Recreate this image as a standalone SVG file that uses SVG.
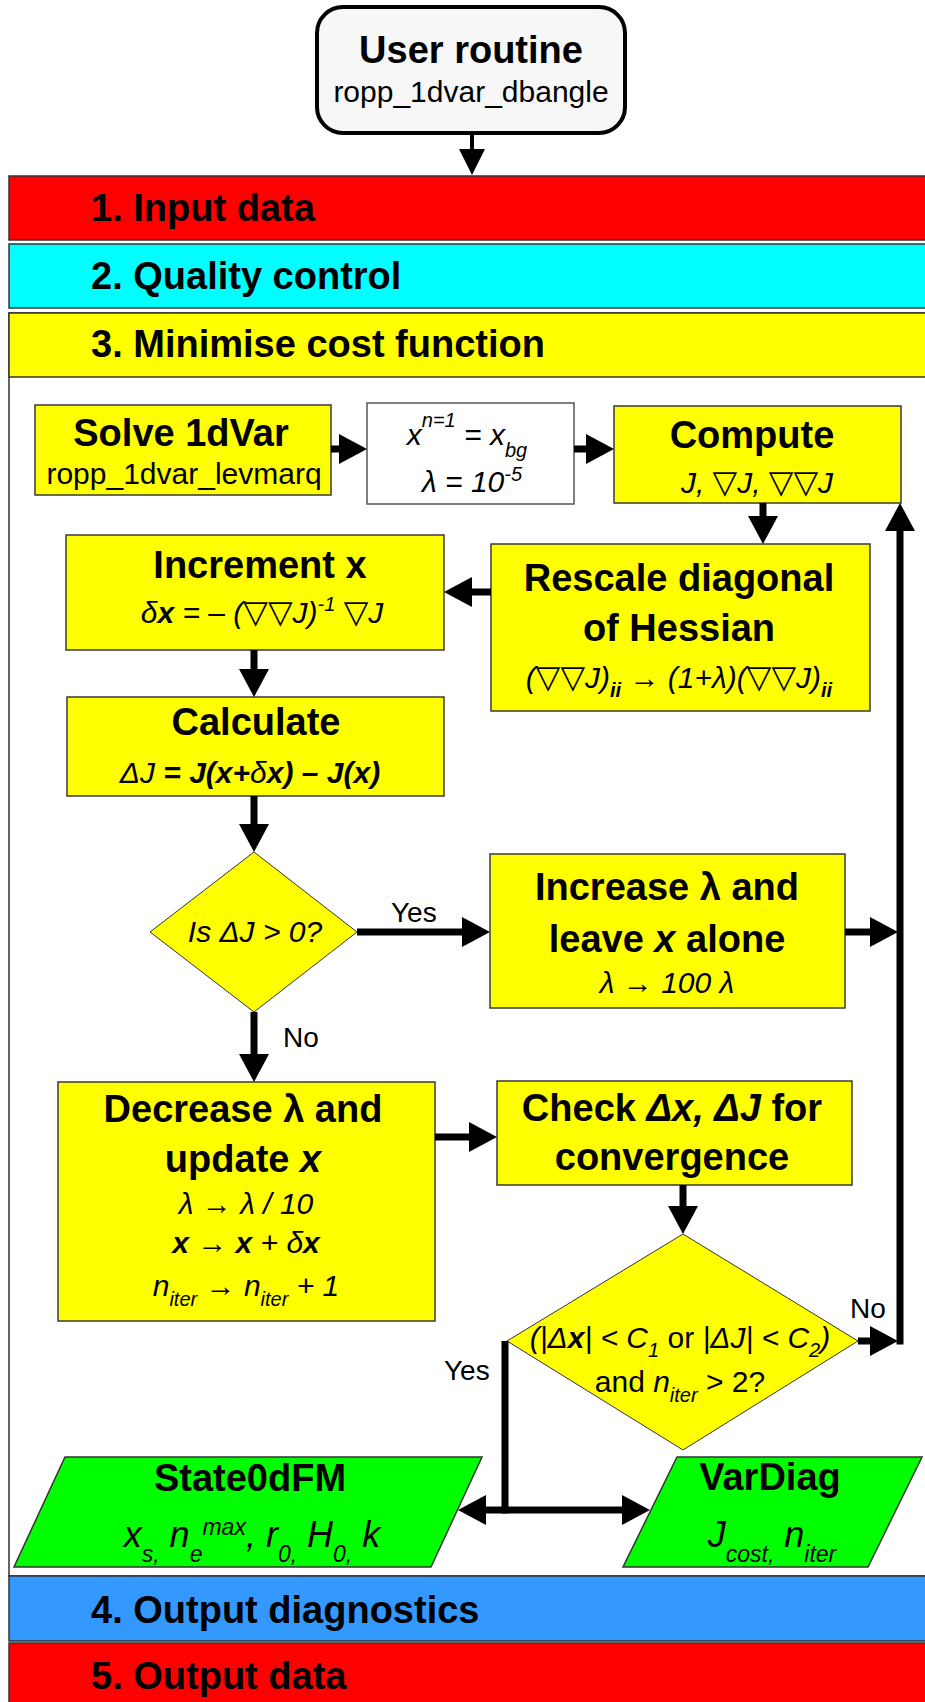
<svg xmlns="http://www.w3.org/2000/svg" width="925" height="1702" viewBox="0 0 925 1702">
<style>
text{font-family:"Liberation Sans","DejaVu Sans",sans-serif;fill:#000}
.title{font-size:38px;font-weight:bold;text-anchor:middle}
.band{font-size:38px;font-weight:bold}
.body{font-size:30px;text-anchor:middle}
.lbl{font-size:28px}
.it{font-style:italic}
.b{font-weight:bold}
.n{font-weight:normal;font-style:normal}
.nab{font-family:"DejaVu Sans",sans-serif;font-style:normal;font-weight:normal;font-size:32px}
.box{fill:#FFFF00;stroke:#3a3a3a;stroke-width:1.5}
.dia{fill:#FFFF00;stroke:#333;stroke-width:1}
.out{fill:#00FF00;stroke:#333;stroke-width:1.5}
.conn{fill:none;stroke:#000;stroke-width:7}
</style>
<defs>
<marker id="ah" viewBox="0 0 28 30" refX="0" refY="15" markerWidth="28" markerHeight="30" markerUnits="userSpaceOnUse" orient="auto"><path d="M0,0 L28,15 L0,30 Z" fill="#000"/></marker>
<marker id="ahs" viewBox="0 0 26 26" refX="0" refY="13" markerWidth="26" markerHeight="26" markerUnits="userSpaceOnUse" orient="auto"><path d="M0,0 L26,13 L0,26 Z" fill="#000"/></marker>
</defs>
<rect width="925" height="1702" fill="#fff"/>

<g id="sections">
<rect x="9" y="176" width="940" height="64" fill="#FF0000" stroke="#333" stroke-width="1.5"/>
<text class="band" x="91" y="221">1. Input data</text>
<rect x="9" y="244" width="940" height="64" fill="#00FFFF" stroke="#333" stroke-width="1.5"/>
<text class="band" x="91" y="289">2. Quality control</text>
<rect x="9" y="313" width="940" height="1263" fill="#fff" stroke="#333" stroke-width="1.5"/>
<rect x="9" y="313" width="940" height="64" fill="#FFFF00" stroke="#333" stroke-width="1.5"/>
<text class="band" x="91" y="357">3. Minimise cost function</text>
<rect x="9" y="1576" width="940" height="65" fill="#3399FF" stroke="#333" stroke-width="1.5"/>
<text class="band" x="91" y="1623">4. Output diagnostics</text>
<rect x="9" y="1643" width="940" height="70" fill="#FF0000" stroke="#333" stroke-width="1.5"/>
<text class="band" x="91" y="1689">5. Output data</text>
</g>

<g id="user-routine">
<rect x="317" y="7" width="308" height="126" rx="26" fill="#F7F7F7" stroke="#000" stroke-width="4"/>
<text class="title" x="471" y="63">User routine</text>
<text class="body" x="471" y="102">ropp_1dvar_dbangle</text>
</g>

<g id="solve-1dvar">
<rect class="box" x="35" y="405" width="296" height="90"/>
<text class="title" x="181" y="446">Solve 1dVar</text>
<text class="body" x="184" y="484">ropp_1dvar_levmarq</text>
</g>

<g id="initialise">
<rect x="367" y="403" width="207" height="101" fill="#fff" stroke="#555" stroke-width="1.5"/>
<text class="body it" x="467" y="445">x<tspan font-size="20" dy="-18">n=1</tspan><tspan dy="18"> = x</tspan><tspan font-size="20" dy="12">bg</tspan></text>
<text class="body it" x="472" y="492">λ = 10<tspan font-size="20" dy="-11">-5</tspan></text>
</g>

<g id="compute">
<rect class="box" x="614" y="406" width="287" height="97"/>
<text class="title" x="752" y="448">Compute</text>
<text class="body it" x="757" y="493">J, <tspan class="nab">▽</tspan>J, <tspan class="nab">▽▽</tspan>J</text>
</g>

<g id="rescale">
<rect class="box" x="491" y="544" width="379" height="167"/>
<text class="title" x="679" y="591">Rescale diagonal</text>
<text class="title" x="679" y="641">of Hessian</text>
<text class="body it" x="679" y="688">(<tspan class="nab">▽▽</tspan>J)<tspan class="b" font-size="20" dy="9">ii</tspan><tspan dy="-9"> → (1+λ)(</tspan><tspan class="nab">▽▽</tspan>J)<tspan class="b" font-size="20" dy="9">ii</tspan></text>
</g>

<g id="increment">
<rect class="box" x="66" y="535" width="378" height="115"/>
<text class="title" x="260" y="578">Increment x</text>
<text class="body it" x="262" y="623">δ<tspan class="b">x</tspan> = – (<tspan class="nab">▽▽</tspan>J)<tspan font-size="20" dy="-12">-1</tspan><tspan dy="12">  </tspan><tspan class="nab">▽</tspan>J</text>
</g>

<g id="calculate">
<rect class="box" x="67" y="697" width="377" height="99"/>
<text class="title" x="256" y="735">Calculate</text>
<text class="body it" x="250" y="783">ΔJ<tspan class="b"> = J(x+</tspan>δ<tspan class="b">x) – J(x)</tspan></text>
</g>

<g id="decision-dj">
<polygon class="dia" points="254,852 357,932 254,1012 150,932"/>
<text class="body it" x="255" y="942">Is ΔJ &gt; 0?</text>
</g>

<g id="increase">
<rect class="box" x="490" y="854" width="355" height="154"/>
<text class="title" x="667" y="900">Increase λ and</text>
<text class="title" x="667" y="952">leave <tspan class="it">x</tspan> alone</text>
<text class="body it" x="667" y="993">λ → 100 λ</text>
</g>

<g id="decrease">
<rect class="box" x="58" y="1082" width="377" height="239"/>
<text class="title" x="243" y="1122">Decrease λ and</text>
<text class="title" x="243" y="1172">update <tspan class="it">x</tspan></text>
<text class="body it" x="246" y="1214">λ → λ / 10</text>
<text class="body it" x="246" y="1253"><tspan class="b">x</tspan> → <tspan class="b">x</tspan> + δ<tspan class="b">x</tspan></text>
<text class="body it" x="246" y="1296">n<tspan font-size="20" dy="10">iter</tspan><tspan dy="-10"> → n</tspan><tspan font-size="20" dy="10">iter</tspan><tspan dy="-10"> + 1</tspan></text>
</g>

<g id="check">
<rect class="box" x="497" y="1081" width="355" height="104"/>
<text class="title" x="672" y="1121">Check <tspan class="it">Δx, ΔJ</tspan> for</text>
<text class="title" x="672" y="1170">convergence</text>
</g>

<g id="decision-conv">
<polygon class="dia" points="683,1234 858,1341 683,1450 507,1341"/>
<text class="body it" x="680" y="1348">(|Δ<tspan class="b">x</tspan>| &lt; C<tspan font-size="20" dy="9">1</tspan><tspan class="n" dy="-9"> or </tspan>|ΔJ| &lt; C<tspan font-size="20" dy="9">2</tspan><tspan dy="-9">)</tspan></text>
<text class="body" x="680" y="1392">and <tspan class="it">n</tspan><tspan class="it" font-size="20" dy="10">iter</tspan><tspan dy="-10"> &gt; 2?</tspan></text>
</g>

<g id="state0dfm">
<polygon class="out" points="65,1457 482,1457 431,1567 14,1567"/>
<text class="title" x="250" y="1491">State0dFM</text>
<text class="it" font-size="36" text-anchor="middle" x="252" y="1547">x<tspan font-size="23" dy="15">s,</tspan><tspan dy="-15"> n</tspan><tspan font-size="23" dy="15">e</tspan><tspan font-size="23" dy="-27">max</tspan><tspan dy="12">, r</tspan><tspan font-size="23" dy="15">0,</tspan><tspan dy="-15"> H</tspan><tspan font-size="23" dy="15">0,</tspan><tspan dy="-15"> k</tspan></text>
</g>

<g id="vardiag">
<polygon class="out" points="677,1457 922,1457 868,1567 623,1567"/>
<text class="title" x="770" y="1490">VarDiag</text>
<text class="it" font-size="36" text-anchor="middle" x="772" y="1547">J<tspan font-size="23" dy="15">cost,</tspan><tspan dy="-15"> n</tspan><tspan font-size="23" dy="15">iter</tspan></text>
</g>

<g id="connectors">
<path d="M472,133 V149" fill="none" stroke="#000" stroke-width="4" marker-end="url(#ahs)"/>
<path class="conn" d="M331,449 H339" marker-end="url(#ah)"/>
<path class="conn" d="M574,449 H586" marker-end="url(#ah)"/>
<path class="conn" d="M763,503 V516" marker-end="url(#ah)"/>
<path class="conn" d="M491,592 H472" marker-end="url(#ah)"/>
<path class="conn" d="M254,650 V669" marker-end="url(#ah)"/>
<path class="conn" d="M254,796 V824" marker-end="url(#ah)"/>
<path class="conn" d="M357,932 H462" marker-end="url(#ah)"/>
<path class="conn" d="M254,1012 V1054" marker-end="url(#ah)"/>
<path class="conn" d="M845,932 H870" marker-end="url(#ah)"/>
<path class="conn" d="M435,1137 H469" marker-end="url(#ah)"/>
<path class="conn" d="M683,1185 V1206" marker-end="url(#ah)"/>
<path class="conn" d="M858,1341 H870" marker-end="url(#ah)"/>
<path class="conn" d="M900,1344.5 V531" marker-end="url(#ah)"/>
<path class="conn" d="M505,1341 V1513.5"/>
<path class="conn" d="M505,1510 H486" marker-end="url(#ah)"/>
<path class="conn" d="M505,1510 H622" marker-end="url(#ah)"/>
<text class="lbl" x="391" y="922">Yes</text>
<text class="lbl" x="283" y="1047">No</text>
<text class="lbl" x="850" y="1318">No</text>
<text class="lbl" x="444" y="1380">Yes</text>
</g>
</svg>
